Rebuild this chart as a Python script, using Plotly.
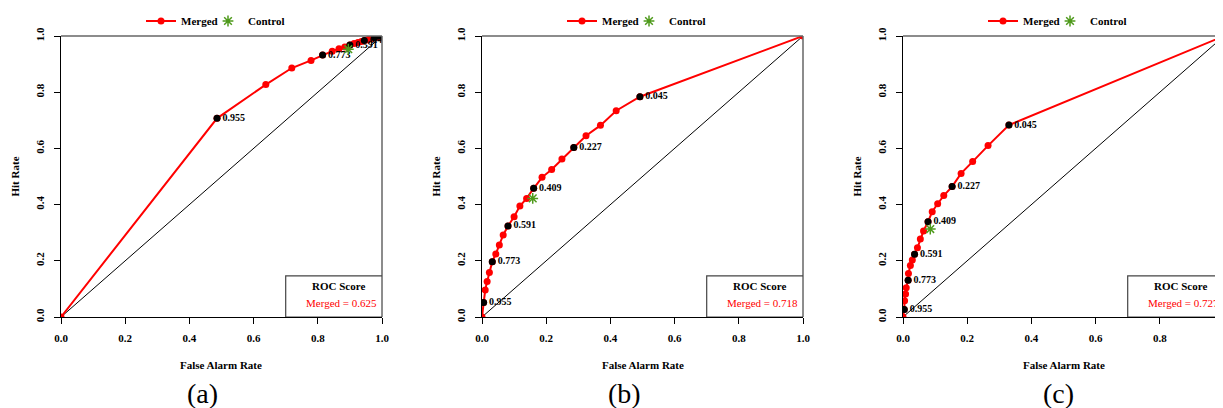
import plotly.graph_objects as go

# ---------------- data ----------------
point_labels = ["0.955", "0.773", "0.591", "0.409", "0.227", "0.045"]
label_index = [1, 5, 9, 13, 17, 21]

far_a = [0.0, 0.486, 0.638, 0.719, 0.779, 0.815, 0.845, 0.866, 0.884, 0.900, 0.913, 0.925,
         0.936, 0.945, 0.955, 0.963, 0.970, 0.977, 0.983, 0.988, 0.992, 0.995, 1.0]
hit_a = [0.0, 0.707, 0.827, 0.886, 0.913, 0.932, 0.946, 0.955, 0.961, 0.968, 0.973, 0.977,
         0.980, 0.984, 0.987, 0.990, 0.992, 0.994, 0.996, 0.997, 0.998, 0.999, 1.0]

far_b = [0.0, 0.005, 0.010, 0.016, 0.023, 0.032, 0.043, 0.054, 0.066, 0.081, 0.100, 0.118,
         0.139, 0.161, 0.187, 0.217, 0.249, 0.286, 0.324, 0.369, 0.418, 0.492, 1.0]
hit_b = [0.0, 0.052, 0.096, 0.126, 0.158, 0.197, 0.224, 0.256, 0.292, 0.324, 0.357, 0.395,
         0.422, 0.458, 0.497, 0.525, 0.562, 0.603, 0.645, 0.682, 0.734, 0.784, 1.0]

far_c = [0.0, 0.004, 0.005, 0.008, 0.010, 0.016, 0.017, 0.023, 0.029, 0.036, 0.045, 0.054,
         0.064, 0.078, 0.091, 0.108, 0.127, 0.153, 0.181, 0.217, 0.265, 0.330, 1.0]
hit_c = [0.0, 0.027, 0.058, 0.082, 0.104, 0.131, 0.155, 0.183, 0.203, 0.223, 0.246, 0.278,
         0.306, 0.339, 0.375, 0.403, 0.432, 0.464, 0.511, 0.553, 0.610, 0.683, 1.0]

control_far = [0.895, 0.158, 0.085]
control_hit = [0.953, 0.422, 0.313]

roc_scores = [0.625, 0.718, 0.727]
panel_names = ["(a)", "(b)", "(c)"]
diag = [0.0, 1.0]
tick_vals = [0.0, 0.2, 0.4, 0.6, 0.8, 1.0]

# ---------------- styling ----------------
W, H = 1223, 408
BODY = 8  # default page body margin of the HTML page
SERIF = "Liberation Serif"
RED = "#ff0000"
GREEN = "#4f9a1c"
GRAY = "#666666"

panel_left_px = [61, 482, 903]
panel_w_px = 321
plot_top_px, plot_bot_px = 36, 317
label_center_px = [203, 624, 1058]
legend_left_px = [141, 562, 983]


def fx(px):
    return (px - BODY) / W


def fy(py):
    return 1 - (py - BODY) / H


fars = [far_a, far_b, far_c]
hits = [hit_a, hit_b, hit_c]

fig = go.Figure()
layout = dict(
    width=W, height=H,
    margin=dict(l=0, r=0, t=0, b=0, pad=0, autoexpand=False),
    paper_bgcolor="white", plot_bgcolor="white",
    shapes=[], annotations=[],
)

for i in range(3):
    sfx = "" if i == 0 else str(i + 1)
    xa, ya = "x" + sfx, "y" + sfx
    leg = "legend" + sfx

    fig.add_trace(go.Scatter(x=diag, y=diag, mode="lines", xaxis=xa, yaxis=ya,
                             line=dict(color="black", width=1), showlegend=False,
                             hoverinfo="skip", legend=leg))
    fig.add_trace(go.Scatter(x=fars[i], y=hits[i], mode="lines+markers", name="Merged",
                             xaxis=xa, yaxis=ya, legend=leg,
                             line=dict(color=RED, width=2),
                             marker=dict(color=RED, size=7)))
    fig.add_trace(go.Scatter(x=[fars[i][k] for k in label_index],
                             y=[hits[i][k] for k in label_index],
                             mode="markers+text", text=point_labels,
                             textposition="middle right",
                             textfont=dict(family=SERIF, size=10, color="black", weight="bold"),
                             marker=dict(color="black", size=7),
                             xaxis=xa, yaxis=ya, showlegend=False, legend=leg,
                             cliponaxis=True))
    fig.add_trace(go.Scatter(x=[control_far[i]], y=[control_hit[i]], mode="markers",
                             name="Control", xaxis=xa, yaxis=ya, legend=leg,
                             marker=dict(symbol="asterisk-open", size=9,
                                         line=dict(color=GREEN, width=1.5), color=GREEN)))
    # empty legend slot so that the "Control" label is not clipped by the legend box
    fig.add_trace(go.Scatter(x=[None], y=[None], mode="markers", name=" ",
                             xaxis=xa, yaxis=ya, legend=leg, hoverinfo="skip",
                             marker=dict(opacity=0, color="white")))

    x0 = fx(panel_left_px[i])
    x1 = min(fx(panel_left_px[i] + panel_w_px), 1.0)
    y0 = fy(plot_bot_px)
    y1 = fy(plot_top_px)

    axis_common = dict(range=[0, 1], tickvals=tick_vals, tickformat=".1f",
                       showgrid=False, zeroline=False, showline=True,
                       linecolor="black", linewidth=1, ticks="outside",
                       ticklen=6, tickcolor="black", tickwidth=1,
                       tickfont=dict(family=SERIF, size=11, color="black", weight="bold"),
                       fixedrange=True, automargin=False, ticklabeloverflow="allow")
    layout["xaxis" + sfx] = dict(axis_common, domain=[x0, x1], anchor=ya,
                                 ticklabelstandoff=5)
    layout["yaxis" + sfx] = dict(axis_common, domain=[y0, y1], anchor=xa,
                                 tickangle=-90, ticklabelstandoff=6)

    layout[leg] = dict(orientation="h", x=fx(legend_left_px[i]),
                       xanchor="left", y=fy(21), yanchor="middle",
                       bgcolor="rgba(0,0,0,0)",
                       font=dict(family=SERIF, size=11, color="black", weight="bold"),
                       itemwidth=30, tracegroupgap=0,
                       entrywidth=22, entrywidthmode="pixels")

    xd, yd = xa + " domain", ya + " domain"
    layout["shapes"].append(dict(type="line", xref=xd, yref=yd, x0=0, x1=1, y0=1, y1=1,
                                 line=dict(color=GRAY, width=1.5)))
    layout["shapes"].append(dict(type="line", xref=xd, yref=yd, x0=1, x1=1, y0=0, y1=1,
                                 line=dict(color=GRAY, width=1.5)))
    layout["shapes"].append(dict(type="rect", xref=xa, yref=ya, x0=0.7, x1=1.0, y0=0, y1=0.146,
                                 line=dict(color="#444444", width=1.2), fillcolor="white",
                                 layer="above"))
    layout["annotations"].append(dict(xref=xa, yref=ya, x=0.866, y=0.110, text="ROC Score",
                                      showarrow=False, xanchor="center", yanchor="middle",
                                      font=dict(family=SERIF, size=11, color="black", weight="bold")))
    layout["annotations"].append(dict(xref=xa, yref=ya, x=0.873, y=0.051,
                                      text="Merged = %.3f" % roc_scores[i],
                                      showarrow=False, xanchor="center", yanchor="middle",
                                      font=dict(family=SERIF, size=11, color=RED)))
    layout["annotations"].append(dict(xref=xd, yref=yd, x=0, y=0.5, xshift=-47,
                                      text="Hit Rate", textangle=-90, showarrow=False,
                                      xanchor="center", yanchor="middle",
                                      font=dict(family=SERIF, size=11, color="black", weight="bold")))
    layout["annotations"].append(dict(xref=xd, yref=yd, x=0.5, y=0, yshift=-48,
                                      text="False Alarm Rate", showarrow=False,
                                      xanchor="center", yanchor="middle",
                                      font=dict(family=SERIF, size=11, color="black", weight="bold")))
    layout["annotations"].append(dict(xref="paper", yref="paper", x=fx(label_center_px[i]),
                                      y=fy(393), text=panel_names[i], showarrow=False,
                                      xanchor="center", yanchor="middle",
                                      font=dict(family=SERIF, size=28, color="black")))

fig.update_layout(**layout)
fig.write_html("out.html")
